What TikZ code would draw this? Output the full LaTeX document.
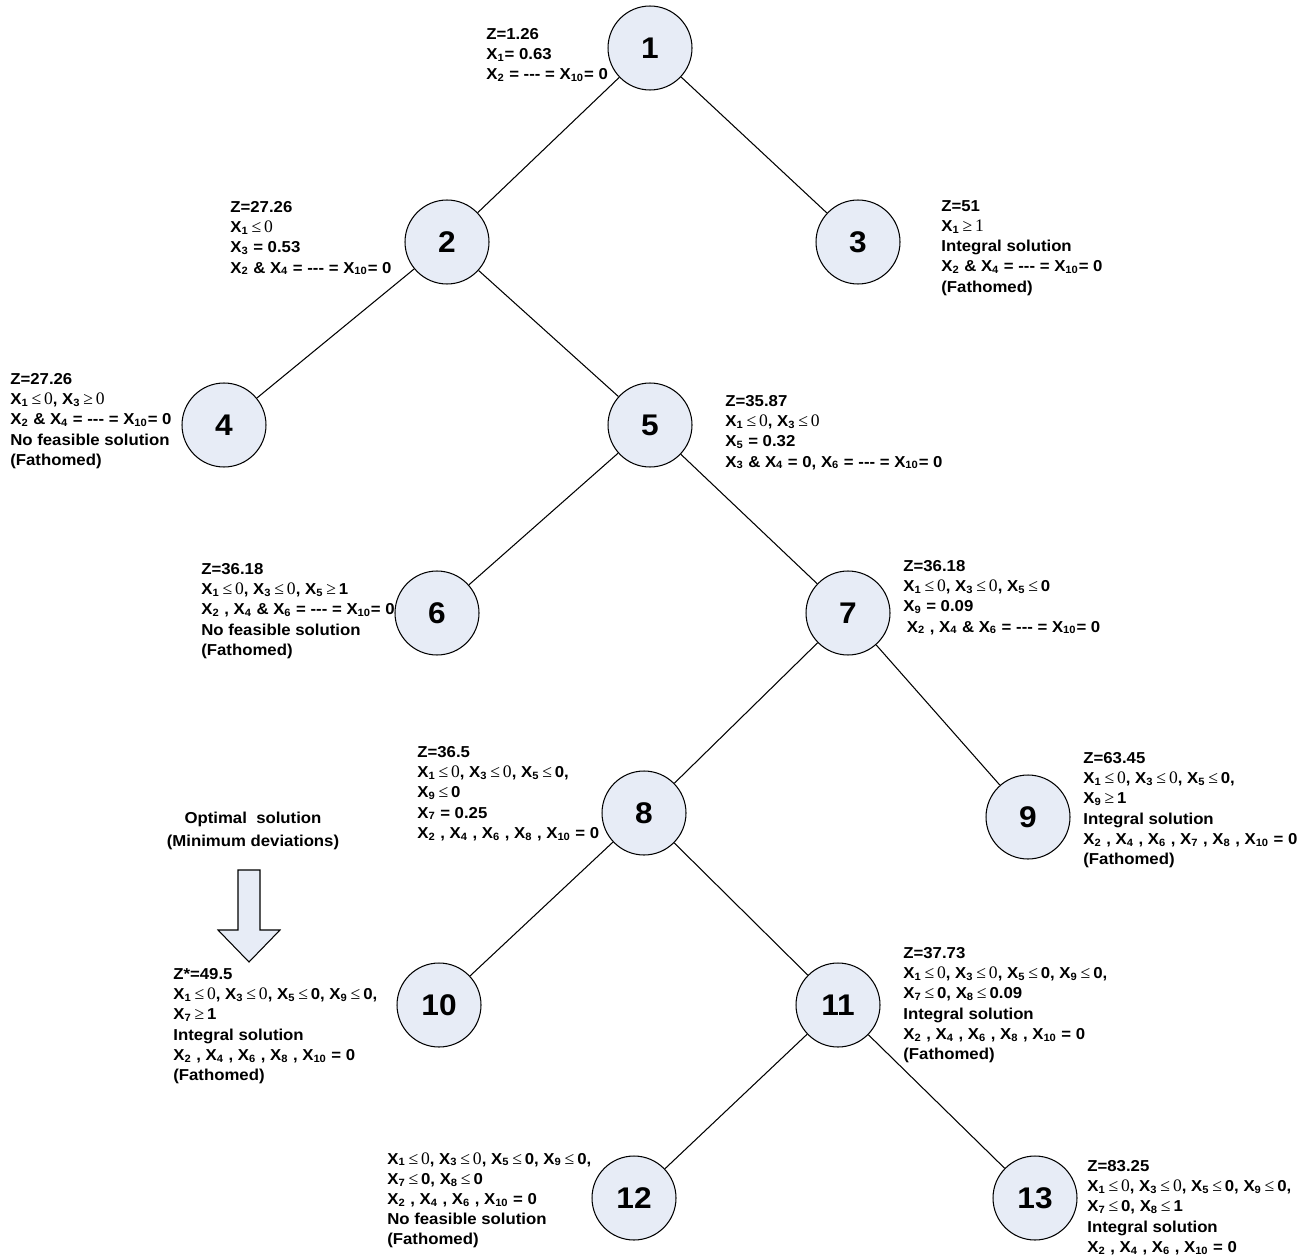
\documentclass[tikz,border=0pt]{standalone}
\usepackage{fontspec}
\setmainfont{Liberation Sans}[FakeStretch=1.06]
\newfontfamily\serifsym{Liberation Serif}
\usetikzlibrary{positioning}
\definecolor{statefill}{RGB}{231,236,246}
\newcommand{\Xs}[1]{X\textsubscript{#1}}
\newcommand{\srf}[1]{{\serifsym\mdseries\fontsize{10}{11}\selectfont #1}}
\newcommand{\dashes}{-{}-{}-}

\begin{document}
\begin{tikzpicture}[
    x=0.02cm, y=-0.02cm,
    state/.style={draw, circle, fill=statefill, minimum size=1.68cm, inner sep=0pt, line width=0.6pt, font=\bfseries\fontsize{17}{17}\selectfont},
    info/.style={anchor=north west, align=left, inner sep=0pt, font=\bfseries\fontsize{9}{11.5}\selectfont},
    link/.style={line width=0.6pt}
]
    \useasboundingbox (0,0) rectangle (1304,1260);
    % tree nodes
    \node[state] (n1) at (650,48) {1};
    \node[state] (n2) at (447,242) {2};
    \node[state] (n3) at (858,242) {3};
    \node[state] (n4) at (224,425) {4};
    \node[state] (n5) at (650,425) {5};
    \node[state] (n6) at (437,613) {6};
    \node[state] (n7) at (848,613) {7};
    \node[state] (n8) at (644,813) {8};
    \node[state] (n9) at (1028,817) {9};
    \node[state] (n10) at (439,1005) {10};
    \node[state] (n11) at (838,1005) {11};
    \node[state] (n12) at (634,1198) {12};
    \node[state] (n13) at (1035,1198) {13};

    % branches
    \draw[link] (n1) -- (n2);
    \draw[link] (n1) -- (n3);
    \draw[link] (n2) -- (n4);
    \draw[link] (n2) -- (n5);
    \draw[link] (n5) -- (n6);
    \draw[link] (n5) -- (n7);
    \draw[link] (n7) -- (n8);
    \draw[link] (n7) -- (n9);
    \draw[link] (n8) -- (n10);
    \draw[link] (n8) -- (n11);
    \draw[link] (n11) -- (n12);
    \draw[link] (n11) -- (n13);

    % node data
    \node[info] (z1) at (486,28) {Z=1.26\\ \Xs{1}= 0.63\\ \Xs{2} = \dashes{} = \Xs{10}= 0};
    \node[info] (z2) at (230,201) {Z=27.26\\ \Xs{1}\srf{\,≤\,0}\\ \Xs{3} = 0.53\\ \Xs{2} \& \Xs{4} = \dashes{} = \Xs{10}= 0};
    \node[info] (z3) at (941,200) {Z=51\\ \Xs{1}\srf{\,≥\,1}\\ Integral solution\\ \Xs{2} \& \Xs{4} = \dashes{} = \Xs{10}= 0\\ (Fathomed)};
    \node[info] (z4) at (10,373) {Z=27.26\\ \Xs{1}\srf{\,≤\,0}, \Xs{3}\srf{\,≥\,0}\\ \Xs{2} \& \Xs{4} = \dashes{} = \Xs{10}= 0\\ No feasible solution\\ (Fathomed)};
    \node[info] (z5) at (725,395) {Z=35.87\\ \Xs{1}\srf{\,≤\,0}, \Xs{3}\srf{\,≤\,0}\\ \Xs{5} = 0.32\\ \Xs{3} \& \Xs{4} = 0, \Xs{6} = \dashes{} = \Xs{10}= 0};
    \node[info] (z6) at (201,563) {Z=36.18\\ \Xs{1}\srf{\,≤\,0}, \Xs{3}\srf{\,≤\,0}, \Xs{5}\srf{\,≥\,}1\\ \Xs{2} , \Xs{4} \& \Xs{6} = \dashes{} = \Xs{10}= 0\\ No feasible solution\\ (Fathomed)};
    \node[info] (z7) at (903,560) {Z=36.18\\ \Xs{1}\srf{\,≤\,0}, \Xs{3}\srf{\,≤\,0}, \Xs{5}\srf{\,≤\,}0\\ \Xs{9} = 0.09\\ \hspace{2pt}\Xs{2} , \Xs{4} \& \Xs{6} = \dashes{} = \Xs{10}= 0};
    \node[info] (z8) at (417,746) {Z=36.5\\ \Xs{1}\srf{\,≤\,0}, \Xs{3}\srf{\,≤\,0}, \Xs{5}\srf{\,≤\,}0,\\ \Xs{9}\srf{\,≤\,}0\\ \Xs{7} = 0.25\\ \Xs{2} , \Xs{4} , \Xs{6} , \Xs{8} , \Xs{10} = 0};
    \node[info] (z9) at (1083,752) {Z=63.45\\ \Xs{1}\srf{\,≤\,0}, \Xs{3}\srf{\,≤\,0}, \Xs{5}\srf{\,≤\,}0,\\ \Xs{9}\srf{\,≥\,}1\\ Integral solution\\ \Xs{2} , \Xs{4} , \Xs{6} , \Xs{7} , \Xs{8} , \Xs{10} = 0\\ (Fathomed)};
    \node[info] (z10) at (173,968) {Z*=49.5\\ \Xs{1}\srf{\,≤\,0}, \Xs{3}\srf{\,≤\,0}, \Xs{5}\srf{\,≤\,}0, \Xs{9}\srf{\,≤\,}0,\\ \Xs{7}\srf{\,≥\,}1\\ Integral solution\\ \Xs{2} , \Xs{4} , \Xs{6} , \Xs{8} , \Xs{10} = 0\\ (Fathomed)};
    \node[info] (z11) at (903,947) {Z=37.73\\ \Xs{1}\srf{\,≤\,0}, \Xs{3}\srf{\,≤\,0}, \Xs{5}\srf{\,≤\,}0, \Xs{9}\srf{\,≤\,}0,\\ \Xs{7}\srf{\,≤\,}0, \Xs{8}\srf{\,≤\,}0.09\\ Integral solution\\ \Xs{2} , \Xs{4} , \Xs{6} , \Xs{8} , \Xs{10} = 0\\ (Fathomed)};
    \node[info] (z12) at (387,1152) {\Xs{1}\srf{\,≤\,0}, \Xs{3}\srf{\,≤\,0}, \Xs{5}\srf{\,≤\,}0, \Xs{9}\srf{\,≤\,}0,\\ \Xs{7}\srf{\,≤\,}0, \Xs{8}\srf{\,≤\,}0\\ \Xs{2} , \Xs{4} , \Xs{6} , \Xs{10} = 0\\ No feasible solution\\ (Fathomed)};
    \node[info] (z13) at (1087,1160) {Z=83.25\\ \Xs{1}\srf{\,≤\,0}, \Xs{3}\srf{\,≤\,0}, \Xs{5}\srf{\,≤\,}0, \Xs{9}\srf{\,≤\,}0,\\ \Xs{7}\srf{\,≤\,}0, \Xs{8}\srf{\,≤\,}1\\ Integral solution\\ \Xs{2} , \Xs{4} , \Xs{6} , \Xs{10} = 0};

    % optimum marker
    \node[font=\bfseries\fontsize{9}{13}\selectfont, align=center] (optimal) at (253,831) {Optimal\ \ solution\\(Minimum deviations)};
    \draw[link, fill=statefill] (238,870) -- (260,870) -- (260,930) -- (280,930) -- (249,962) -- (218,930) -- (238,930) -- cycle;
\end{tikzpicture}
\end{document}
